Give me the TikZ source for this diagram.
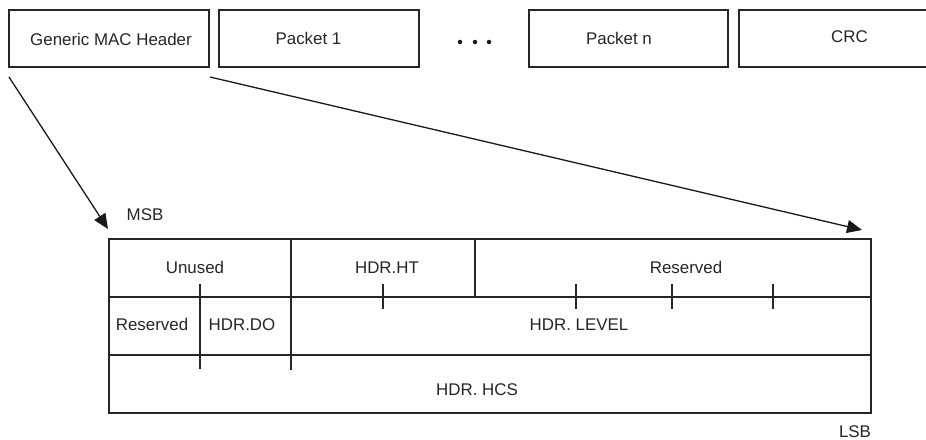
\documentclass[tikz,border=0pt]{standalone}
\usepackage{fontspec}
\setmainfont{Liberation Sans}
\usetikzlibrary{arrows.meta}
\begin{document}
\begin{tikzpicture}[x=1pt,y=-1pt,
  lbl/.style={font=\fontsize{16.9}{20}\selectfont, text=black!85, inner sep=0pt, text height=12.1pt, text depth=0pt},
  frame/.style={draw=black!85, line width=1.3pt},
  boxn/.style={frame, inner sep=0pt, minimum height=57pt},
  conn/.style={draw=black!90, line width=1.3pt, -{Triangle[length=15pt,width=13pt]}},
  dotn/.style={circle, fill=black!90, inner sep=0pt, minimum size=4.5pt}]
\useasboundingbox (0,0) rectangle (926,439);
% top row
\node[boxn, minimum width=200pt] (gmh) at (109,38.5) {};
\node[boxn, minimum width=200pt] (p1) at (319,38.5) {};
\node[boxn, minimum width=199pt] (pn) at (628.5,38.5) {};
\node[boxn, minimum width=222pt] (crc) at (850,38.5) {};
\node[lbl] (tgmh) at (111,39) {Generic MAC Header};
\node[lbl] (tp1) at (308.5,38.5) {Packet 1};
\node[lbl] (tpn) at (619,38) {Packet n};
\node[lbl] (tcrc) at (849.5,36.5) {CRC};
\node[dotn] (d1) at (460,42) {};
\node[dotn] (d2) at (475,42) {};
\node[dotn] (d3) at (489,42) {};
% table
\node[frame, inner sep=0pt, minimum width=762pt, minimum height=174pt] (tbl) at (490,326) {};
\draw[frame] (109,297) -- (871,297);
\draw[frame] (109,355) -- (871,355);
\draw[frame] (291,239) -- (291,370);
\draw[frame] (475,239) -- (475,297);
\draw[frame] (200,284) -- (200,369);
\foreach \x in {383,576,672,773} \draw[frame] (\x,284) -- (\x,309);
% labels
\node[lbl] (msb) at (145,214) {MSB};
\node[lbl] (unused) at (195,267.5) {Unused};
\node[lbl] (ht) at (387,267.5) {HDR.HT};
\node[lbl] (res1) at (686,267.5) {Reserved};
\node[lbl] (res2) at (152,324.5) {Reserved};
\node[lbl] (do) at (242,324.5) {HDR.DO};
\node[lbl] (lvl) at (579,324.5) {HDR. LEVEL};
\node[lbl] (hcs) at (477,389) {HDR. HCS};
\node[lbl] (lsb) at (855,431) {LSB};
% connectors
\coordinate (a1s) at (9,77);
\coordinate (a1e) at (108,229);
\coordinate (a2s) at (210,77);
\coordinate (a2e) at (862,230);
\draw[conn] (a1s) -- (a1e);
\draw[conn] (a2s) -- (a2e);
\end{tikzpicture}
\end{document}
